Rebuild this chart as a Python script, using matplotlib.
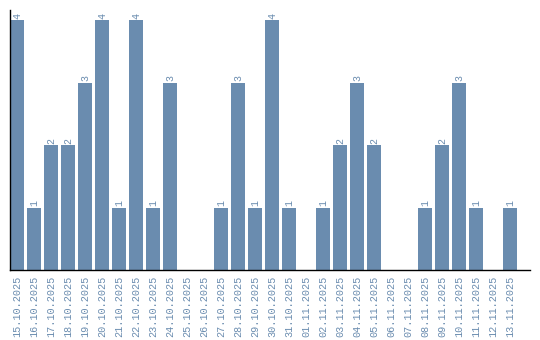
import matplotlib
matplotlib.use("Agg")
import matplotlib.pyplot as plt

dates = ["15.10.2025", "16.10.2025", "17.10.2025", "18.10.2025", "19.10.2025",
         "20.10.2025", "21.10.2025", "22.10.2025", "23.10.2025", "24.10.2025",
         "25.10.2025", "26.10.2025", "27.10.2025", "28.10.2025", "29.10.2025",
         "30.10.2025", "31.10.2025", "01.11.2025", "02.11.2025", "03.11.2025",
         "04.11.2025", "05.11.2025", "06.11.2025", "07.11.2025", "08.11.2025",
         "09.11.2025", "10.11.2025", "11.11.2025", "12.11.2025", "13.11.2025"]
counts = [4, 1, 2, 2, 3, 4, 1, 4, 1, 3,
          0, 0, 1, 3, 1, 4, 1, 0, 1, 2,
          3, 2, 0, 0, 1, 2, 3, 1, 0, 1]

color = "#6a8caf"
fig = plt.figure(figsize=(5.4, 3.4), dpi=100)
ax = fig.add_axes([10/540, 70/340, 520/540, 260/340])
x = list(range(len(dates)))
ax.bar(x, counts, width=14/17, color=color)
for xi, v in zip(x, counts):
    if v > 0:
        ax.text(xi, v + 0.02, str(v), rotation=90, ha="center", va="bottom",
                color=color, fontsize=7.2, family="Liberation Mono")
ax.set_xlim(-7/17, len(dates) - 7/17 + 10/17)
ax.set_ylim(0, 4 + 10/62.5)
ax.set_xticks(x)
ax.set_xticklabels(dates, rotation=90, color=color, fontsize=7.3, family="Liberation Mono")
ax.tick_params(axis="x", length=0, pad=4)
ax.set_yticks([])
for s in ["top", "right"]:
    ax.spines[s].set_visible(False)
for s in ["left", "bottom"]:
    ax.spines[s].set_color("black")
    ax.spines[s].set_linewidth(1.0)
fig.savefig("out.png", dpi=100)
